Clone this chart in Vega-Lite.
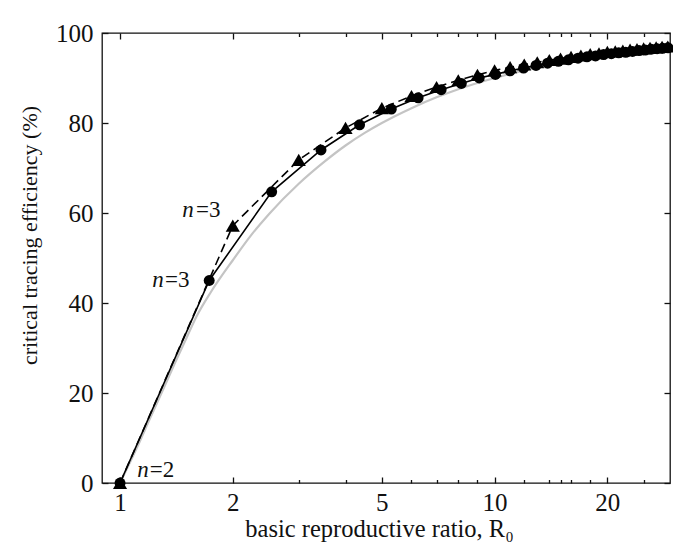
{
  "$schema": "https://vega.github.io/schema/vega-lite/v6.json",
  "width": 568,
  "height": 450,
  "autosize": {"type": "none"},
  "padding": {"left": 102, "top": 33, "right": 3, "bottom": 65},
  "background": "white",
  "config": {
    "view": {"stroke": "#111", "strokeWidth": 1.3},
    "font": "Liberation Serif",
    "axis": {
      "domain": false, "grid": false,
      "labelFont": "Liberation Serif", "titleFont": "Liberation Serif",
      "labelFontSize": 25, "titleFontSize": 24, "titleFontWeight": "normal",
      "labelColor": "#111", "titleColor": "#111", "tickColor": "#111", "tickWidth": 1.3,
      "labelOverlap": false, "labelFlush": false
    }
  },
  "datasets": {
    "grey": [
      {"R": 1, "v": 0}, {"R": 1.1, "v": 7.2}, {"R": 1.2, "v": 14.2}, {"R": 1.3, "v": 20.6},
      {"R": 1.4, "v": 26.6}, {"R": 1.5, "v": 32}, {"R": 1.6, "v": 37}, {"R": 1.75, "v": 42.5},
      {"R": 2, "v": 49.5}, {"R": 2.25, "v": 55.3}, {"R": 2.5, "v": 59.8}, {"R": 3, "v": 66.5},
      {"R": 3.5, "v": 71.3}, {"R": 4, "v": 75}, {"R": 4.5, "v": 77.8}, {"R": 5, "v": 80},
      {"R": 6, "v": 83.3}, {"R": 7, "v": 85.7}, {"R": 8, "v": 87.5}, {"R": 10, "v": 90},
      {"R": 12, "v": 91.7}, {"R": 15, "v": 93.3}, {"R": 20, "v": 95}, {"R": 25, "v": 96},
      {"R": 29.4, "v": 96.6}
    ],
    "circles": [
      {"R": 1, "v": 0}, {"R": 1.73, "v": 45}, {"R": 2.54, "v": 64.7}, {"R": 3.44, "v": 74},
      {"R": 4.36, "v": 79.6}, {"R": 5.3, "v": 83.1}, {"R": 6.25, "v": 85.6}, {"R": 7.2, "v": 87.4},
      {"R": 8.15, "v": 88.8}, {"R": 9.1, "v": 90}, {"R": 10.05, "v": 90.8}, {"R": 11, "v": 91.6},
      {"R": 11.95, "v": 92.2}, {"R": 12.9, "v": 92.8}, {"R": 13.85, "v": 93.3}, {"R": 14.8, "v": 93.7},
      {"R": 15.75, "v": 94.05}, {"R": 16.7, "v": 94.4}, {"R": 17.65, "v": 94.7}, {"R": 18.6, "v": 94.9},
      {"R": 19.55, "v": 95.2}, {"R": 20.5, "v": 95.4}, {"R": 21.45, "v": 95.6}, {"R": 22.4, "v": 95.7},
      {"R": 23.35, "v": 95.9}, {"R": 24.3, "v": 96.1}, {"R": 25.25, "v": 96.2}, {"R": 26.2, "v": 96.4},
      {"R": 27.15, "v": 96.5}, {"R": 28.1, "v": 96.6}, {"R": 29.05, "v": 96.7}
    ],
    "triangles": [
      {"R": 1, "v": 0}, {"R": 2, "v": 57.2}, {"R": 3, "v": 71.8}, {"R": 4, "v": 78.9},
      {"R": 5, "v": 83.3}, {"R": 6, "v": 86}, {"R": 7, "v": 88}, {"R": 8, "v": 89.5},
      {"R": 9, "v": 90.7}, {"R": 10, "v": 91.7}, {"R": 11, "v": 92.4}, {"R": 12, "v": 93},
      {"R": 13, "v": 93.5}, {"R": 14, "v": 94}, {"R": 15, "v": 94.3}, {"R": 16, "v": 94.7},
      {"R": 17, "v": 95}, {"R": 18, "v": 95.3}, {"R": 19, "v": 95.5}, {"R": 20, "v": 95.8},
      {"R": 21, "v": 95.9}, {"R": 22, "v": 96.1}, {"R": 23, "v": 96.3}, {"R": 24, "v": 96.4},
      {"R": 25, "v": 96.6}, {"R": 26, "v": 96.7}, {"R": 27, "v": 96.8}, {"R": 28, "v": 96.9},
      {"R": 29, "v": 97}
    ],
    "labelN": [
      {"R": 1.518, "v": 60.7, "t": "n"},
      {"R": 1.263, "v": 45.1, "t": "n"},
      {"R": 1.152, "v": 2.9, "t": "n"}
    ],
    "labelEq": [
      {"R": 1.595, "v": 60.7, "t": "=3"},
      {"R": 1.318, "v": 45.1, "t": "=3"},
      {"R": 1.2, "v": 2.9, "t": "=2"}
    ]
  },
  "resolve": {"axis": {"x": "independent", "y": "independent"}},
  "layer": [
    {
      "data": {"name": "grey"},
      "mark": {"type": "line", "color": "#c4c4c4", "strokeWidth": 2.2, "interpolate": "monotone"},
      "encoding": {
        "x": {"field": "R", "type": "quantitative",
              "scale": {"type": "log", "domain": [0.895, 29.4], "nice": false},
              "axis": {"orient": "bottom", "values": [1, 2, 5, 10, 20], "tickSize": -6, "labelPadding": 13,
                       "title": "basic reproductive ratio, R₀", "titlePadding": 2, "titleFontSize": 24.5,
                       "titleX": 277}},
        "y": {"field": "v", "type": "quantitative",
              "scale": {"domain": [0, 100], "nice": false},
              "axis": {"orient": "left", "values": [0, 20, 40, 60, 80, 100], "tickSize": -6, "labelPadding": 15,
                       "title": "critical tracing efficiency (%)", "titlePadding": 14, "titleFontSize": 22,
                       "titleY": 202}}
      }
    },
    {
      "data": {"name": "circles"},
      "mark": {"type": "line", "color": "black", "strokeWidth": 1.6,
               "point": {"filled": true, "size": 120, "color": "black"}},
      "encoding": {
        "x": {"field": "R", "type": "quantitative",
              "scale": {"type": "log", "domain": [0.895, 29.4], "nice": false},
              "axis": {"orient": "bottom", "values": [3, 4, 6, 7, 8, 9, 12, 14, 15, 16, 18, 25], "tickSize": -3.5,
                       "labels": false, "title": null}},
        "y": {"field": "v", "type": "quantitative",
              "scale": {"domain": [0, 100], "nice": false},
              "axis": {"orient": "right", "values": [0, 20, 40, 60, 80, 100], "tickSize": -6,
                       "labels": false, "title": null}}
      }
    },
    {
      "data": {"name": "triangles"},
      "mark": {"type": "line", "color": "black", "strokeWidth": 1.6, "strokeDash": [9, 5],
               "point": {"filled": true, "size": 200, "color": "black", "shape": "triangle-up"}},
      "encoding": {
        "x": {"field": "R", "type": "quantitative",
              "scale": {"type": "log", "domain": [0.895, 29.4], "nice": false},
              "axis": {"orient": "top", "values": [1, 2, 5, 10, 20], "tickSize": -6,
                       "labels": false, "title": null}},
        "y": {"field": "v", "type": "quantitative",
              "scale": {"domain": [0, 100], "nice": false}, "axis": null}
      }
    },
    {
      "data": {"name": "labelN"},
      "mark": {"type": "text", "font": "Liberation Serif", "fontSize": 23, "fontStyle": "italic",
               "color": "#111", "align": "center", "baseline": "middle"},
      "encoding": {
        "x": {"field": "R", "type": "quantitative",
              "scale": {"type": "log", "domain": [0.895, 29.4], "nice": false},
              "axis": {"orient": "top", "values": [3, 4, 6, 7, 8, 9, 12, 14, 15, 16, 18, 25], "tickSize": -3.5,
                       "labels": false, "title": null}},
        "y": {"field": "v", "type": "quantitative",
              "scale": {"domain": [0, 100], "nice": false}, "axis": null},
        "text": {"field": "t"}
      }
    },
    {
      "data": {"name": "labelEq"},
      "mark": {"type": "text", "font": "Liberation Serif", "fontSize": 23,
               "color": "#111", "align": "left", "baseline": "middle"},
      "encoding": {
        "x": {"field": "R", "type": "quantitative",
              "scale": {"type": "log", "domain": [0.895, 29.4], "nice": false}, "axis": null},
        "y": {"field": "v", "type": "quantitative",
              "scale": {"domain": [0, 100], "nice": false}, "axis": null},
        "text": {"field": "t"}
      }
    }
  ]
}
